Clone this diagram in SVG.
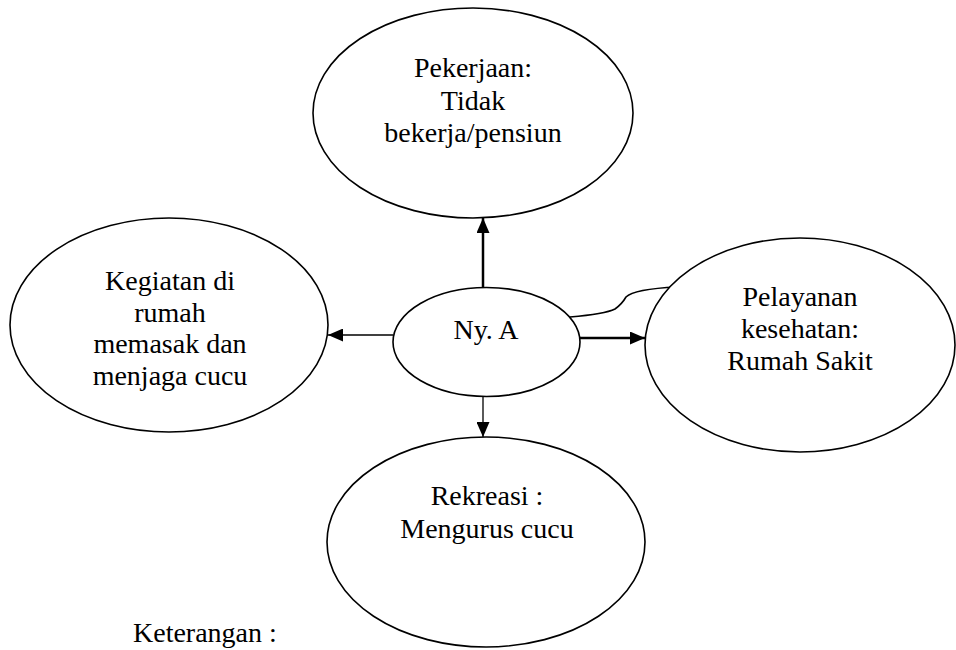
<svg xmlns="http://www.w3.org/2000/svg" width="956" height="650" viewBox="0 0 956 650">
<defs>
<style>
.node ellipse{fill:#fff;stroke:#000;stroke-width:1.6}
text{font-family:"Liberation Serif","Times New Roman",serif;font-size:28px;fill:#000;text-anchor:middle}
.conn{fill:none;stroke:#000}
</style>
<marker id="ah" markerUnits="userSpaceOnUse" markerWidth="15" markerHeight="13" refX="15" refY="6.5" orient="auto">
<path d="M0,0 L15,6.5 L0,13 Z" fill="#000"/>
</marker>
</defs>
<rect width="956" height="650" fill="#fff"/>
<g id="connectors">
<line class="conn" x1="483" y1="288" x2="483" y2="218" stroke-width="2.5" marker-end="url(#ah)"/>
<line class="conn" x1="393" y1="335" x2="328" y2="335" stroke-width="1.5" marker-end="url(#ah)"/>
<line class="conn" x1="580" y1="338" x2="645" y2="338" stroke-width="2.5" marker-end="url(#ah)"/>
<line class="conn" x1="483" y1="396" x2="483" y2="437" stroke-width="1.3" marker-end="url(#ah)"/>
<path class="conn" stroke-width="1.6" d="M570,317 Q605,314 615,309 Q622,304 626,297 Q634,289 677,287"/>
</g>
<g id="node-pekerjaan" class="node">
<ellipse cx="473" cy="113" rx="160" ry="105"/>
<text x="473" y="77">Pekerjaan:</text>
<text x="473" y="110">Tidak</text>
<text x="473" y="142">bekerja/pensiun</text>
</g>
<g id="node-kegiatan" class="node">
<ellipse cx="169" cy="325" rx="159" ry="107"/>
<text x="170" y="290">Kegiatan di</text>
<text x="170" y="322">rumah</text>
<text x="170" y="353">memasak dan</text>
<text x="170" y="385">menjaga cucu</text>
</g>
<g id="node-nya" class="node">
<ellipse cx="486.5" cy="342" rx="93.5" ry="54.5"/>
<text x="486" y="339">Ny. A</text>
</g>
<g id="node-pelayanan" class="node">
<ellipse cx="800" cy="345" rx="155" ry="107"/>
<text x="800" y="306">Pelayanan</text>
<text x="800" y="338">kesehatan:</text>
<text x="800" y="370">Rumah Sakit</text>
</g>
<g id="node-rekreasi" class="node">
<ellipse cx="486" cy="542" rx="159" ry="105"/>
<text x="487" y="505">Rekreasi :</text>
<text x="487" y="538">Mengurus cucu</text>
</g>
<text x="133" y="642" style="text-anchor:start">Keterangan :</text>
</svg>
